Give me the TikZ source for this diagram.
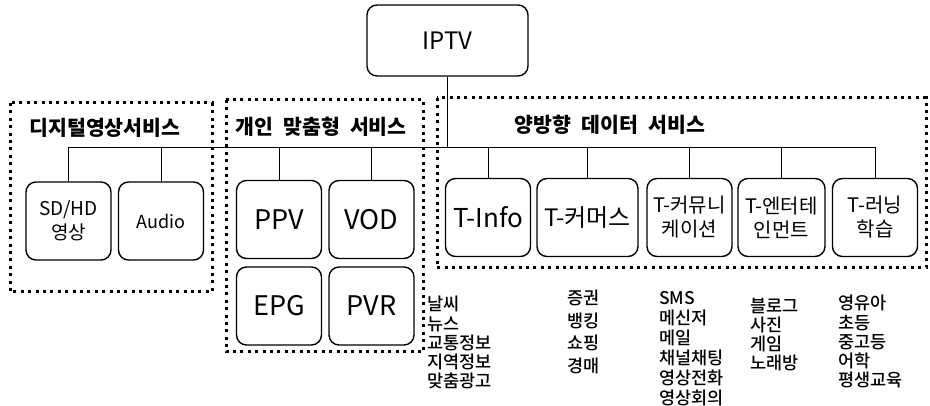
\documentclass[tikz,border=0pt]{standalone}
\usepackage{fontspec}
\setmainfont{Noto Sans CJK KR}
\newfontfamily\medfont{Noto Sans CJK KR Medium}
\begin{document}
\begin{tikzpicture}[x=1pt,y=-1pt,
  svc/.style={draw, line width=1.4pt, rounded corners=10pt, minimum width=85pt,
    minimum height=78pt, align=center, inner sep=1pt},
  big/.style={font=\fontsize{27}{30}\selectfont},
  small/.style={font=\fontsize{20}{24}\selectfont},
  grp/.style={line width=3pt, dash pattern=on 3pt off 4.4pt},
  ttl/.style={font=\fontsize{20.5}{22}\selectfont\bfseries},
  lst/.style={anchor=north west, inner sep=0pt, align=left,
    font=\fontsize{17.5}{19.3}\selectfont\medfont},
  link/.style={line width=0.9pt}]
\useasboundingbox (0,0) rectangle (930,406);
%Start with the root node, then the three groups of services
% each group gets a dotted frame and a bold title, and every
% service box hangs from one common bus line under the root.
\node[svc,font=\fontsize{24}{28}\selectfont,minimum width=161pt,minimum height=71pt] (iptv) at (447.5,40.5) {IPTV};

\node[ttl] (tdig) at (105,128) {디지털영상서비스};
\node[svc,font=\fontsize{19}{24}\selectfont] (sdhd) at (68.5,221) {SD/HD\\영상};
\node[svc,font=\fontsize{18}{24}\selectfont] (audio) at (161,221) {Audio};

\node[ttl] (tper) at (321,127) {개인\hspace{.5em}맞춤형\hspace{.5em}서비스};
\node[svc,big] (ppv) at (279,219.5) {PPV};
\node[svc,big] (vod) at (371.5,219.5) {VOD};
\node[svc,big] (epg) at (279,306) {EPG};
\node[svc,big] (pvr) at (371.5,306) {PVR};

\node[ttl] (ttwo) at (610,125) {양방향\hspace{.5em}데이터\hspace{.5em}서비스};
\node[svc,font=\fontsize{26}{30}\selectfont] (tinfo) at (488,217.5) {T-Info};
\node[svc,font=\fontsize{24}{28}\selectfont,minimum width=101pt] (tcom) at (587.5,217.5) {T-커머스};
\node[svc,small] (tcomm) at (689.5,217.5) {T-커뮤니\\케이션};
\node[svc,small,minimum width=87pt] (tent) at (781.5,217.5) {T-엔터테\\인먼트};
\node[svc,small] (tlearn) at (875,217.5) {T-러닝\\학습};

% the bus line and the drops
\coordinate (bus) at (0,147);
\draw[link] (sdhd.north |- bus) -- (tlearn.north |- bus);
\draw[link] (iptv.south) -- (iptv.south |- bus);
\foreach \n in {sdhd,audio,ppv,vod,tinfo,tcom,tcomm,tent,tlearn}
  \draw[link] (\n.north) -- (\n.north |- bus);

% dotted group frames
\draw[grp] (10,103) rectangle (212,292);
\draw[grp] (226,100) rectangle (423,352);
\draw[grp] (437,98) rectangle (926,268);

% lists under the two-way services
\node[lst] (linfo) at (427,296) {날씨\\뉴스\\교통정보\\지역정보\\맞춤광고};
\node[lst,font=\fontsize{17.5}{22.5}\selectfont\medfont] (lcom) at (567,290) {증권\\뱅킹\\쇼핑\\경매};
\node[lst,font=\fontsize{17.5}{20}\selectfont\medfont] (lcomm) at (659,291) {SMS\\메신저\\메일\\채널채팅\\영상전화\\영상회의};
\node[lst,font=\fontsize{17.5}{19}\selectfont\medfont] (lent) at (750,298) {블로그\\사진\\게임\\노래방};
\node[lst] (llearn) at (838,295) {영유아\\초등\\중고등\\어학\\평생교육};
\end{tikzpicture}
\end{document}
